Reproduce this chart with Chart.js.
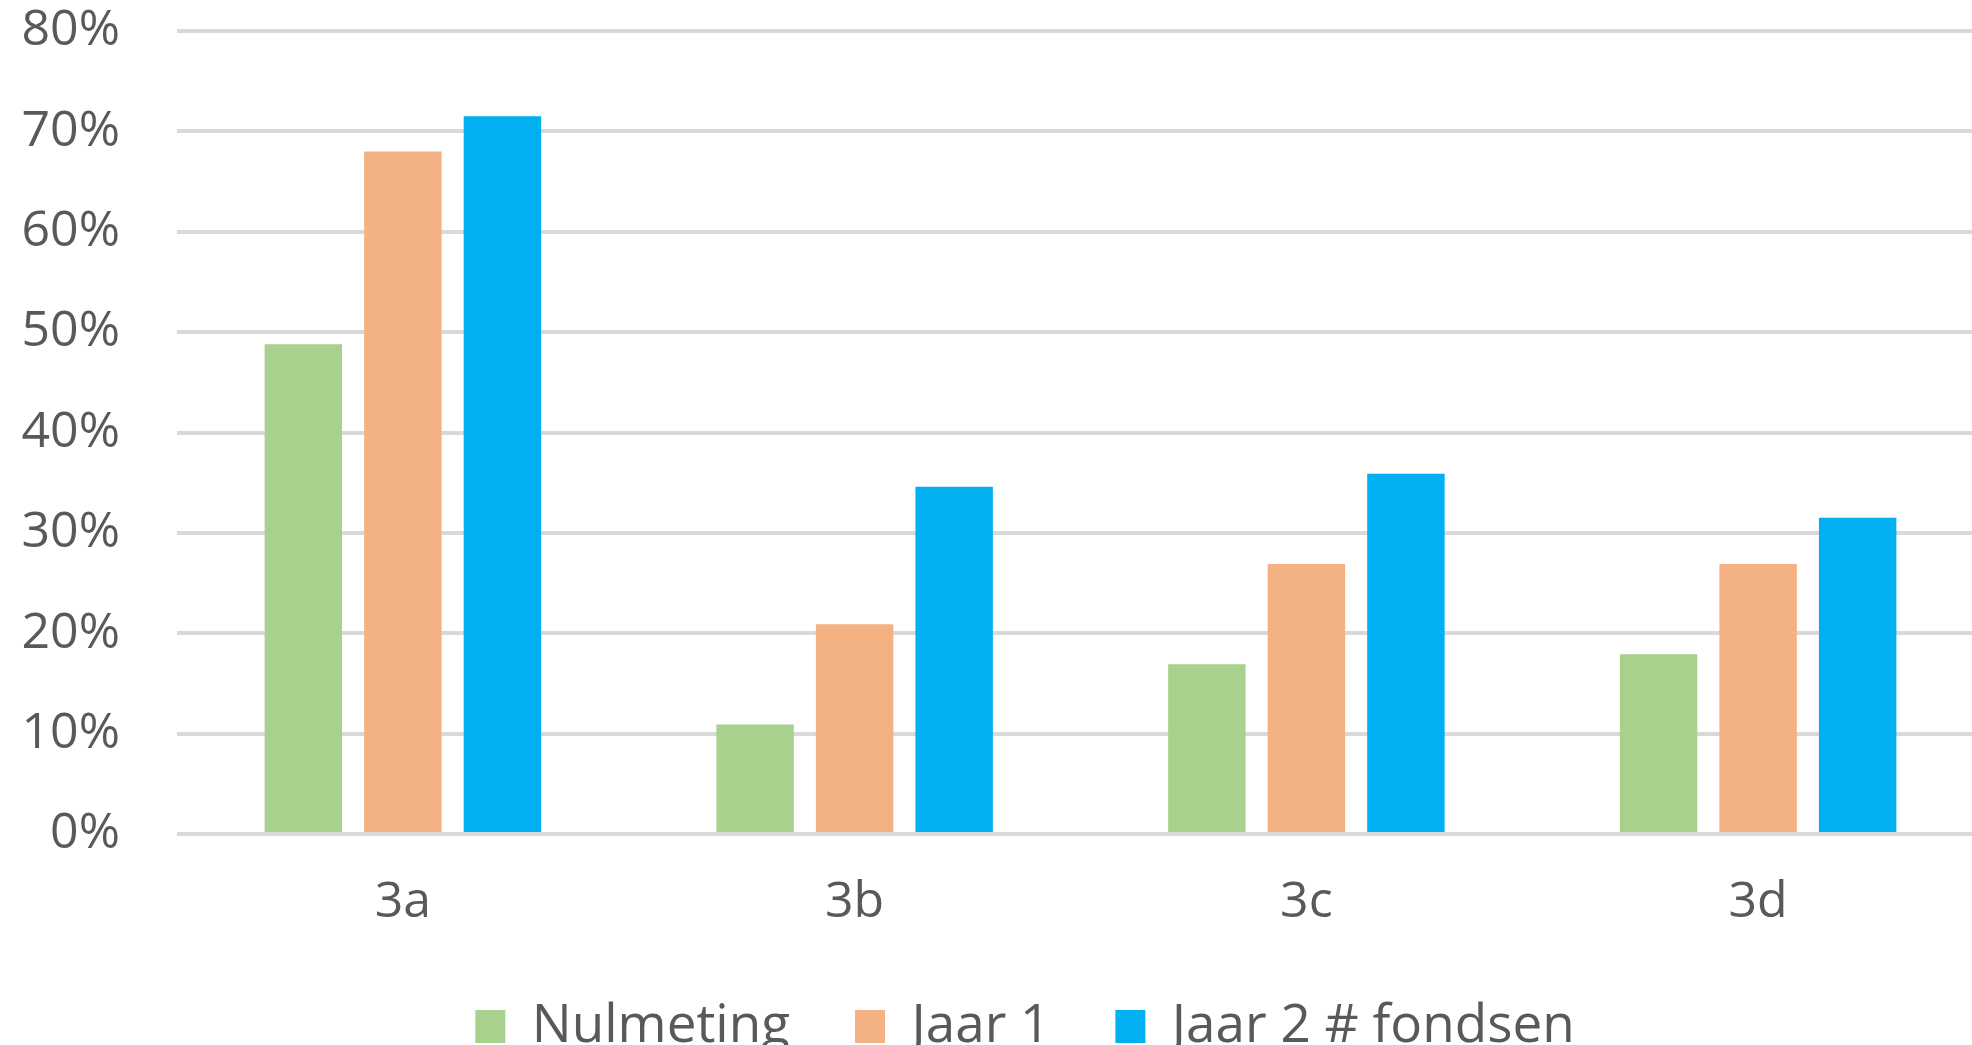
<!DOCTYPE html>
<html>
<head>
<meta charset="utf-8">
<script src="https://cdn.jsdelivr.net/npm/chart.js@4"></script>
<style>
    html, body { margin: 0; padding: 0; background: #fff; overflow: hidden; }
    canvas { display: block; }
</style>
</head>
<body>
<canvas id="bar-chart" width="1984" height="1063"></canvas>
<script>
// values, in percent
const categories = ['3a', '3b', '3c', '3d'];
const nulmeting = [48.8, 10.9, 16.9, 17.9];
const jaar1 = [68.0, 20.9, 26.9, 26.9];
const jaar2 = [71.5, 34.6, 35.9, 31.5];
const seriesNames = ['Nulmeting', 'Jaar 1', 'Jaar 2 # fondsen'];

function main() {

    const barChartCanvas = document.querySelector('#bar-chart');
    const textColor = '#595959';
    const fontFamily = '"Open Sans", "Noto Sans", sans-serif';

    // legend is not centred in the original (picture was cropped), nudge it right
    const legendShift = {
        id: 'legendShift',
        afterLayout(chart) {
            chart.legend.left += 33;
            chart.legend.right += 33;
        }
    };

    new Chart(barChartCanvas.getContext('2d'), {
        type: 'bar',
        data: {
            labels: categories,
            datasets: [
                { label: seriesNames[0], data: nulmeting, backgroundColor: '#A9D18E' },
                { label: seriesNames[1], data: jaar1, backgroundColor: '#F4B183' },
                { label: seriesNames[2], data: jaar2, backgroundColor: '#00B0F0' }
            ]
        },
        options: {
            responsive: false,
            animation: false,
            categoryPercentage: 0.661,
            barPercentage: 0.778,
            layout: { padding: { top: 31, left: 0, right: 0, bottom: 0 } },
            plugins: {
                tooltip: { enabled: false },
                legend: {
                    position: 'bottom',
                    labels: {
                        color: textColor,
                        font: { family: fontFamily, size: 53 },
                        boxWidth: 30,
                        boxHeight: 33,
                        padding: 65
                    }
                }
            },
            scales: {
                x: {
                    grid: { display: false, drawTicks: false },
                    border: { display: false },
                    ticks: {
                        color: textColor,
                        font: { family: fontFamily, size: 50 },
                        padding: 39
                    },
                    afterFit: scale => { scale.height = 101; }
                },
                y: {
                    min: 0,
                    max: 80,
                    grid: { color: '#D9D9D9', lineWidth: 4, drawTicks: false },
                    border: { display: false },
                    ticks: {
                        stepSize: 10,
                        color: textColor,
                        font: { family: fontFamily, size: 50 },
                        padding: 57,
                        callback: value => value + '%'
                    },
                    afterFit: scale => {
                        scale.width = 177;
                        scale.paddingTop = 0;
                        scale.paddingBottom = 0;
                    }
                }
            }
        },
        plugins: [legendShift]
    });
}

main()
</script>
</body>
</html>
